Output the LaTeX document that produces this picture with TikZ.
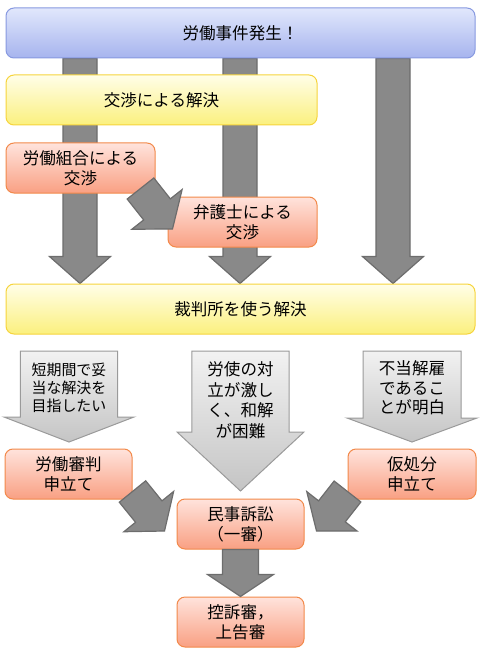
\documentclass[tikz,border=0pt]{standalone}
\usepackage{fontspec}
\setmainfont{Noto Sans CJK JP}
\usetikzlibrary{calc,backgrounds}

\definecolor{bluetop}{HTML}{E1E7FC}
\definecolor{bluebot}{HTML}{A6B4EE}
\definecolor{blueline}{HTML}{8799E0}
\definecolor{yellowtop}{HTML}{FFFEE8}
\definecolor{yellowbot}{HTML}{FBF07E}
\definecolor{yellowline}{HTML}{F6D43C}
\definecolor{redtop}{HTML}{FFE3DC}
\definecolor{redbot}{HTML}{F9A083}
\definecolor{redline}{HTML}{F2894A}
\definecolor{arrowfill}{HTML}{898989}
\definecolor{arrowline}{HTML}{6D6D6D}
\definecolor{lighttop}{HTML}{F2F2F2}
\definecolor{lightbot}{HTML}{C4C4C4}
\definecolor{lightline}{HTML}{9A9A9A}

% fat arrow: style, from, to, shaft half width, head half width, head length
\newcommand{\fatarrow}[6]{%
\coordinate (fas) at (#2);
\coordinate (fat) at (#3);
\coordinate (fah) at ($(fat)!#6!(fas)$);
\path[#1] ($(fas)!#4!90:(fat)$) -- ($(fah)!#4!90:(fat)$) -- ($(fah)!#5!90:(fat)$)
  -- (fat) -- ($(fah)!#5!-90:(fat)$) -- ($(fah)!#4!-90:(fat)$) -- ($(fas)!#4!-90:(fat)$) -- cycle;
}

\tikzset{
  stagebox/.style={rounded corners=6pt, line width=0.75pt, inner sep=0pt, minimum height=37.5pt,
    align=center, font=\fontsize{12.4}{15}\selectfont},
  bluebox/.style={stagebox, draw=blueline, top color=bluetop, bottom color=bluebot},
  yellowbox/.style={stagebox, draw=yellowline, top color=yellowtop, bottom color=yellowbot},
  redbox/.style={stagebox, draw=redline, top color=redtop, bottom color=redbot},
  bigarrow/.style={draw=arrowline, fill=arrowfill, line width=0.9pt, line join=miter},
  lightarrow/.style={draw=lightline, line width=0.75pt, top color=lighttop, bottom color=lightbot},
  notetext/.style={align=center, inner sep=0pt},
}

\begin{document}
\begin{tikzpicture}[x=0.75pt,y=-0.75pt]
\useasboundingbox (0,0) rectangle (480,656);
\coordinate (c1) at (80,0);
\coordinate (c2) at (240,0);
\coordinate (c3) at (393,0);

\node[bluebox, minimum width=351.75pt] (incident) at (240.5,33) {労働事件発生！};
\node[yellowbox, minimum width=233.25pt] (nego) at (161.5,100) {交渉による解決};
\node[redbox, minimum width=111.75pt] (union) at (80.5,168) {労働組合による\\交渉};
\node[redbox, minimum width=111.75pt] (lawyer) at (242.5,222) {弁護士による\\交渉};
\node[yellowbox, minimum width=351.75pt] (court) at (240.5,309) {裁判所を使う解決};

\begin{pgfonlayer}{background}
\fatarrow{bigarrow}{incident.south -| c1}{court.north -| c1}{12.75pt}{22.9pt}{20.25pt}
\fatarrow{bigarrow}{incident.south -| c2}{court.north -| c2}{12.75pt}{22.9pt}{20.25pt}
\fatarrow{bigarrow}{incident.south -| c3}{court.north -| c3}{12.75pt}{22.9pt}{20.25pt}
\end{pgfonlayer}
\fatarrow{bigarrow}{$(union.south east)+(-15,-5)$}{$(lawyer.west)+(5,7)$}{12.75pt}{24pt}{18.75pt}

% routes to court
\fatarrow{lightarrow}{69,351}{69,442}{36.4pt}{48.75pt}{18.75pt}
\fatarrow{lightarrow}{240.5,351}{240.5,491}{36.4pt}{47.6pt}{44.25pt}
\fatarrow{lightarrow}{412,351}{412,442}{36.75pt}{48.75pt}{18pt}
\node[notetext, font=\fontsize{11.2}{13.7}\selectfont] (quick) at (69,388) {短期間で妥\\当な解決を\\目指したい};
\node[notetext, font=\fontsize{12.4}{15.4}\selectfont] (conflict) at (240.5,400) {労使の対\\立が激し\\く、和解\\が困難};
\node[notetext, font=\fontsize{12.4}{14.6}\selectfont] (dismiss) at (412,388) {不当解雇\\であるこ\\とが明白};

\node[redbox, minimum width=95.25pt] (tribunal) at (68.5,474) {労働審判\\申立て};
\node[redbox, minimum width=96pt] (injunction) at (412,474) {仮処分\\申立て};
\node[redbox, minimum width=95.25pt] (civil) at (240.5,524) {民事訴訟\\（一審）};
\node[redbox, minimum width=95.25pt] (appeal) at (240.5,622) {控訴審，\\上告審};

\fatarrow{bigarrow}{$(tribunal.south east)+(0,-8)$}{$(civil.west)+(-12,7)$}{12.75pt}{24pt}{18.75pt}
\fatarrow{bigarrow}{$(injunction.south west)+(0,-8)$}{$(civil.east)+(12,7)$}{12.75pt}{24pt}{18.75pt}
\fatarrow{bigarrow}{civil.south}{appeal.north}{13.5pt}{24.75pt}{16.5pt}
\end{tikzpicture}
\end{document}
